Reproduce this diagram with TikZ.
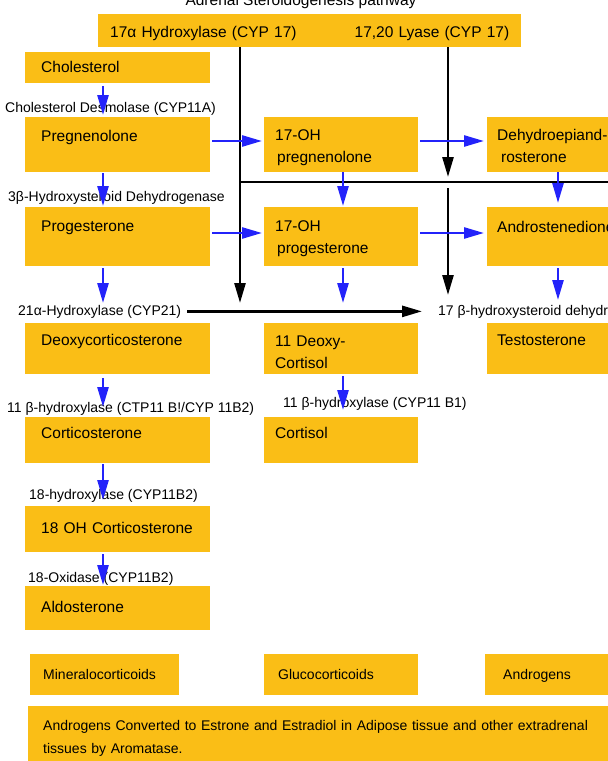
\documentclass[tikz,border=0pt]{standalone}
\usepackage{fontspec}
\setmainfont{Liberation Sans}
\usepackage{tikz}
\usetikzlibrary{arrows.meta}
\usetikzlibrary{positioning,calc}
\definecolor{stagefill}{RGB}{250,190,22}
\definecolor{flowblue}{RGB}{35,35,250}
\tikzset{
    stagebox/.style={
        fill=stagefill,
        anchor=north west,
        align=left,
        inner ysep=0pt,
        font=\fontsize{15.5}{22}\selectfont
    },
    leftcol/.style={stagebox, inner xsep=16pt, text width=153pt},
    midcol/.style={stagebox, inner xsep=11pt, text width=132pt},
    rightcol/.style={stagebox, inner xsep=10pt, text width=130pt},
    classbox/.style={
        stagebox,
        font=\fontsize{14}{23}\selectfont
    },
    enzlabel/.style={
        anchor=base west,
        inner sep=0pt,
        font=\fontsize{14}{17}\selectfont
    },
    flowarrow/.style={
        draw=flowblue,
        line width=2.6pt,
        -{Triangle[length=20pt, width=11pt]}
    },
    gatearrow/.style={
        draw=black,
        line width=2.6pt,
        -{Triangle[length=20pt, width=11pt]}
    }
}

\begin{document}
\begin{tikzpicture}[x=1pt, y=-1pt]
  \useasboundingbox (0,0) rectangle (608,761);
  \clip (0,0) rectangle (608,761);

  % columns and rows the connectors run along
  \coordinate (lcol) at (103,0);
  \coordinate (mcol) at (343,0);
  \coordinate (rcol) at (558,0);
  \coordinate (row1) at (0,141);
  \coordinate (row2) at (0,233);

  % title, cut by the top edge
  \node[anchor=base, inner sep=0pt, font=\fontsize{15.5}{18}\selectfont] (title) at (301,5) {Adrenal Steroidogenesis pathway};

  % CYP 17 bar
  \node[stagebox, inner xsep=12pt, text width=399pt, text height=23pt, text depth=10pt] (cyp17) at (98,14) {17α Hydroxylase (CYP 17)\hfill 17,20 Lyase (CYP 17)};

  % steroids
  \node[leftcol, text height=20pt, text depth=11pt] (chol) at (25,52) {Cholesterol};
  \node[leftcol, text height=24pt, text depth=31pt] (preg) at (25,117) {Pregnenolone};
  \node[midcol, text height=23pt, text depth=32pt] (ohpreg) at (264,117) {17-OH\\\hspace*{2pt}pregnenolone};
  \node[rightcol, text height=23pt, text depth=32pt] (dhea) at (487,117) {Dehydroepiand-\\\hspace*{4pt}rosterone};
  \node[leftcol, text height=24pt, text depth=35pt] (prog) at (25,207) {Progesterone};
  \node[midcol, text height=24pt, text depth=35pt] (ohprog) at (264,207) {17-OH\\\hspace*{2pt}progesterone};
  \node[rightcol, text height=25pt, text depth=34pt] (andro) at (487,207) {Androstenedione};
  \node[leftcol, text height=22pt, text depth=29pt] (doc) at (25,323) {Deoxycorticosterone};
  \node[midcol, text height=23pt, text depth=28pt] (deoxycort) at (264,323) {11 Deoxy-\\Cortisol};
  \node[rightcol, text height=22pt, text depth=29pt] (testo) at (487,323) {Testosterone};
  \node[leftcol, text height=21pt, text depth=25pt] (cortico) at (25,417) {Corticosterone};
  \node[midcol, text height=21pt, text depth=25pt] (cortisol) at (264,417) {Cortisol};
  \node[leftcol, text height=27pt, text depth=19pt] (ohcortico) at (25,506) {18 OH Corticosterone};
  \node[leftcol, text height=26pt, text depth=18pt] (aldo) at (25,586) {Aldosterone};

  % hormone classes
  \foreach \name/\x/\w/\s/\txt in {mineral/30/149/13/Mineralocorticoids, gluco/264/154/14/Glucocorticoids, androgens/485/155/18/Androgens} {
    \pgfmathsetmacro{\tw}{\w-2*\s}
    \node[classbox, inner xsep=\s pt, text width=\tw pt, text height=25pt, text depth=16pt] (\name) at (\x,654) {\txt};
  }
  \node[classbox, inner xsep=15pt, text width=582pt, text height=24pt, text depth=46pt] (aroma) at (28,706) {Androgens Converted to Estrone and Estradiol in Adipose tissue and other extradrenal\\tissues by Aromatase.};

  % enzymes
  \node[enzlabel] (desmolase) at (5,112) {Cholesterol Desmolase (CYP11A)};
  \node[enzlabel] (hsd3) at (8,201) {3β-Hydroxysteroid Dehydrogenase};
  \node[enzlabel] (cyp21) at (18,315) {21α-Hydroxylase (CYP21)};
  \node[enzlabel] (hsd17) at (438,315) {17 β-hydroxysteroid dehydrogenase};
  \node[enzlabel] (cyp11b2) at (7,412) {11 β-hydroxylase (CTP11 B!/CYP 11B2)};
  \node[enzlabel] (cyp11b1) at (283,407) {11 β-hydroxylase (CYP11 B1)};
  \node[enzlabel] (hyd18) at (29,499) {18-hydroxylase (CYP11B2)};
  \node[enzlabel] (oxi18) at (28,582) {18-Oxidase (CYP11B2)};

  % CYP 17 lines
  \coordinate (k1end) at (240,303);
  \coordinate (k2mid) at (448,177);
  \coordinate (k2gap) at (448,188);
  \coordinate (k2end) at (448,295);
  \coordinate (barend) at (640,182);
  \draw[gatearrow] (cyp17.south -| k1end) -- (k1end);
  \draw[gatearrow] (cyp17.south -| k2mid) -- (k2mid);
  \draw[gatearrow] (k2gap) -- (k2end);
  \draw[line width=2.6pt] (k1end |- barend) -- (barend);
  \draw[gatearrow, shorten <=6pt, shorten >=16pt] (cyp21.east) -- (cyp21.east -| hsd17.west);

  % left column
  \draw[flowarrow, shorten <=3pt, shorten >=2pt] (chol.south -| lcol) -- (preg.north -| lcol);
  \draw[flowarrow, shorten <=1pt, shorten >=1pt] (preg.south -| lcol) -- (prog.north -| lcol);
  \draw[flowarrow, shorten <=2pt, shorten >=20pt] (prog.south -| lcol) -- (doc.north -| lcol);
  \draw[flowarrow, shorten <=4pt, shorten >=10pt] (doc.south -| lcol) -- (cortico.north -| lcol);
  \draw[flowarrow, shorten <=1pt, shorten >=6pt] (cortico.south -| lcol) -- (ohcortico.north -| lcol);
  \draw[flowarrow, shorten <=2pt, shorten >=1pt] (ohcortico.south -| lcol) -- (aldo.north -| lcol);

  % middle column
  \draw[flowarrow, shorten >=1pt] (ohpreg.south -| mcol) -- (ohprog.north -| mcol);
  \draw[flowarrow, shorten <=2pt, shorten >=20pt] (ohprog.south -| mcol) -- (deoxycort.north -| mcol);
  \draw[flowarrow, shorten <=2pt, shorten >=7pt] (deoxycort.south -| mcol) -- (cortisol.north -| mcol);

  % right column
  \draw[flowarrow, shorten >=4pt] (dhea.south -| rcol) -- (andro.north -| rcol);
  \draw[flowarrow, shorten <=2pt, shorten >=23pt] (andro.south -| rcol) -- (testo.north -| rcol);

  % across
  \draw[flowarrow, shorten <=2pt, shorten >=2pt] (preg.east |- row1) -- (ohpreg.west |- row1);
  \draw[flowarrow, shorten <=2pt, shorten >=3pt] (ohpreg.east |- row1) -- (dhea.west |- row1);
  \draw[flowarrow, shorten <=2pt, shorten >=2pt] (prog.east |- row2) -- (ohprog.west |- row2);
  \draw[flowarrow, shorten <=2pt, shorten >=3pt] (ohprog.east |- row2) -- (andro.west |- row2);
\end{tikzpicture}
\end{document}
